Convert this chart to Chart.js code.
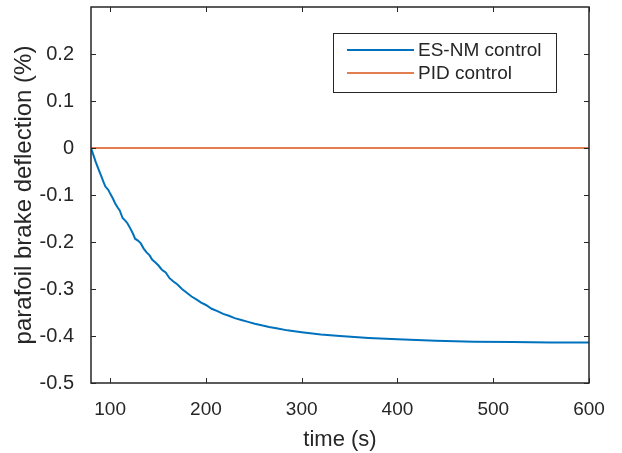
<!DOCTYPE html>
<html>
<head>
<meta charset="utf-8">
<script src="https://cdn.jsdelivr.net/npm/chart.js@4.4.0/dist/chart.umd.min.js"></script>
<style>
  body { margin: 0; background: #fff; }
  canvas { display: block; }
</style>
</head>
<body>
<canvas id="grafico" width="622" height="453"></canvas>
<script>
// dados
var tempo_esnm = [80, 82, 85, 88, 90, 93, 95, 98, 100, 103, 105, 108, 110, 113, 116, 118, 121, 124, 126, 129,
  132, 135, 138, 141, 144, 147, 150, 154, 158, 162, 166, 170, 175, 180, 185, 190, 195, 200, 206, 212,
  218, 224, 230, 237, 244, 251, 258, 266, 275, 285, 300, 320, 340, 370, 400, 440, 480, 520, 560, 600]
var valor_esnm = [0, -0.012, -0.03, -0.046, -0.056, -0.072, -0.082, -0.089, -0.097, -0.108, -0.117, -0.127, -0.133, -0.149, -0.155, -0.16, -0.171, -0.183, -0.193, -0.197,
  -0.203, -0.214, -0.222, -0.228, -0.238, -0.243, -0.249, -0.259, -0.265, -0.277, -0.284, -0.29, -0.3, -0.308, -0.316, -0.322, -0.329, -0.334, -0.342, -0.347,
  -0.353, -0.357, -0.362, -0.366, -0.37, -0.374, -0.377, -0.381, -0.384, -0.388, -0.392, -0.397, -0.4, -0.404, -0.407, -0.41, -0.412, -0.413, -0.414, -0.414]
var tempo_pid = [80, 600]
var valor_pid = [0, 0]

var ticks_x = [100, 200, 300, 400, 500, 600]
var ticks_y = [-0.5, -0.4, -0.3, -0.2, -0.1, 0, 0.1, 0.2]
var rotulos_y = ['-0.5', '-0.4', '-0.3', '-0.2', '-0.1', '0', '0.1', '0.2']

var cor_eixo = '#262626'
var fonte = '"Liberation Sans", Arial, Helvetica, sans-serif'

function pontos(xs, ys) {
  return xs.map(function (x, i) { return { x: x, y: ys[i] } })
}

// caixa do eixo com ticks para dentro (estilo matlab)
var caixa = {
  id: 'caixa',
  afterDatasetsDraw: function (chart) {
    var ctx = chart.ctx
    var a = chart.chartArea
    var sx = chart.scales.x
    var sy = chart.scales.y
    var t = 5
    ctx.save()
    ctx.strokeStyle = cor_eixo
    ctx.lineWidth = 1.5
    ctx.strokeRect(a.left, a.top, a.right - a.left, a.bottom - a.top)
    ctx.lineWidth = 1
    ctx.beginPath()
    ticks_x.forEach(function (v) {
      var px = Math.round(sx.getPixelForValue(v)) + 0.5
      ctx.moveTo(px, a.bottom); ctx.lineTo(px, a.bottom - t)
      ctx.moveTo(px, a.top); ctx.lineTo(px, a.top + t)
    })
    ticks_y.forEach(function (v) {
      var py = Math.round(sy.getPixelForValue(v)) + 0.5
      ctx.moveTo(a.left, py); ctx.lineTo(a.left + t, py)
      ctx.moveTo(a.right, py); ctx.lineTo(a.right - t, py)
    })
    ctx.stroke()
    ctx.restore()
  }
}

// legenda dentro do grafico
var legenda = {
  id: 'legenda',
  afterDraw: function (chart) {
    var ctx = chart.ctx
    var x0 = 333, y0 = 33, w = 223, h = 59
    ctx.save()
    ctx.fillStyle = '#fff'
    ctx.fillRect(x0, y0, w, h)
    ctx.strokeStyle = cor_eixo
    ctx.lineWidth = 1
    ctx.strokeRect(x0 + 0.5, y0 + 0.5, w, h)
    ctx.font = '19px ' + fonte
    ctx.textBaseline = 'middle'
    ctx.fillStyle = cor_eixo
    chart.data.datasets.forEach(function (ds, i) {
      var y = y0 + 17 + i * 23
      ctx.strokeStyle = ds.borderColor
      ctx.lineWidth = ds.borderWidth
      ctx.beginPath()
      ctx.moveTo(x0 + 14, y)
      ctx.lineTo(x0 + 81, y)
      ctx.stroke()
      ctx.fillText(ds.label, x0 + 85, y + 1)
    })
    ctx.restore()
  }
}

var grafico = new Chart(document.getElementById('grafico').getContext('2d'), {
  type: 'line',
  data: {
    datasets: [{
      label: 'ES-NM control',
      data: pontos(tempo_esnm, valor_esnm),
      borderColor: '#0072BD',
      borderWidth: 2,
      pointRadius: 0,
      tension: 0,
      fill: false
    }, {
      label: 'PID control',
      data: pontos(tempo_pid, valor_pid),
      borderColor: '#D95319',
      borderWidth: 1.5,
      pointRadius: 0,
      tension: 0,
      fill: false
    }]
  },
  options: {
    responsive: false,
    animation: false,
    devicePixelRatio: 1,
    layout: { padding: { left: 0, right: 33, top: 7, bottom: 0 } },
    plugins: {
      legend: { display: false },
      tooltip: { enabled: false }
    },
    scales: {
      x: {
        type: 'linear',
        min: 80,
        max: 600,
        grid: { display: false },
        border: { display: false },
        afterBuildTicks: function (s) { s.ticks = ticks_x.map(function (v) { return { value: v } }) },
        afterFit: function (s) {
          s.height = 70
          s.paddingLeft = 0
          s.paddingRight = 0
        },
        ticks: {
          color: cor_eixo,
          font: { family: fonte, size: 19 },
          padding: 7,
          maxRotation: 0,
          autoSkip: false,
          callback: function (v) { return String(v) }
        },
        title: {
          display: true,
          text: 'time (s)',
          color: cor_eixo,
          font: { family: fonte, size: 22 },
          padding: { top: 2, bottom: 0 }
        }
      },
      y: {
        min: -0.5,
        max: 0.3,
        grid: { display: false },
        border: { display: false },
        afterBuildTicks: function (s) { s.ticks = ticks_y.map(function (v) { return { value: v } }) },
        afterFit: function (s) {
          s.width = 91
          s.paddingTop = 0
          s.paddingBottom = 0
        },
        ticks: {
          color: cor_eixo,
          font: { family: fonte, size: 20 },
          padding: 9,
          autoSkip: false,
          callback: function (v, i) { return rotulos_y[i] }
        },
        title: {
          display: true,
          text: 'parafoil brake deflection (%)',
          color: cor_eixo,
          font: { family: fonte, size: 24 },
          padding: { top: 10, bottom: 0 }
        }
      }
    }
  },
  plugins: [caixa, legenda]
})
</script>
</body>
</html>
